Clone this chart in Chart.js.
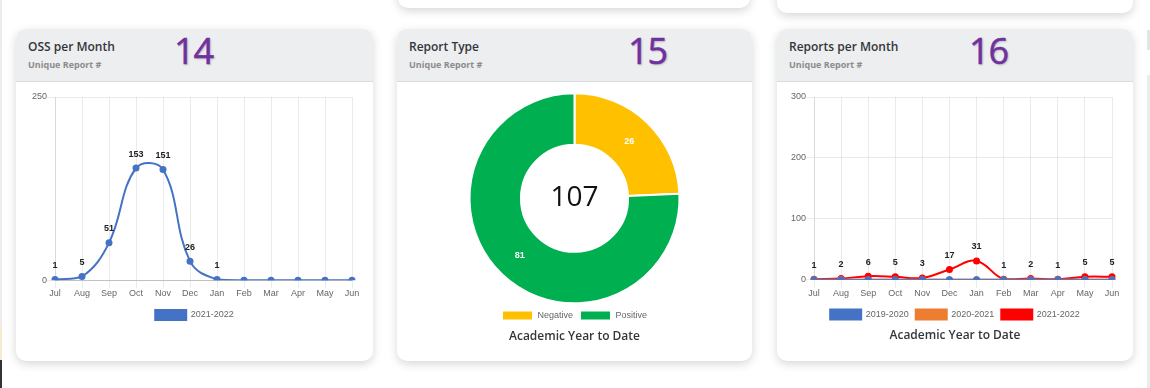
<!DOCTYPE html>
<html>
<head>
<meta charset="utf-8">
<script src="https://cdn.jsdelivr.net/npm/chart.js@4/dist/chart.umd.min.js"></script>
<style>
  html, body { margin: 0; padding: 0; }
  body { width: 1150px; height: 388px; background: #fff; position: relative; overflow: hidden; font-family: 'Open Sans', sans-serif; }
  .card { position: absolute; background: #fff; border-radius: 10px; box-shadow: 0 3px 10px rgba(0,0,0,0.16); overflow: hidden; }
  .card-header { position: absolute; left: 0; top: 0; right: 0; height: 52px; background: #eceef0; border-bottom: 1px solid #d9dbde; }
  .card-title { position: absolute; left: 12px; top: 9px; font-size: 12px; font-weight: 600; color: #33363b; }
  .card-sub { position: absolute; left: 12px; top: 29px; font-size: 9px; font-weight: 700; color: #8c8c8c; }
  .badge { position: absolute; top: -3px; font-size: 36px; color: #7030a0; letter-spacing: -1px; text-shadow: 1px 1px 2px rgba(0,0,0,0.25); -webkit-text-stroke: 0.5px #7030a0; }
  .card-body { position: absolute; left: 0; right: 0; top: 53px; bottom: 0; }
  .strip { position: absolute; }
</style>
</head>
<body>
<div class="card" style="left:398px; top:-40px; width:352px; height:48px;"></div>
<div class="card" style="left:777px; top:-40px; width:356px; height:53px;"></div>
<div class="strip" style="left:0; top:0; width:2px; height:325px; background:#ececec;"></div>
<div class="strip" style="left:0; top:325px; width:2px; height:35px; background:#f6ead2;"></div>
<div class="strip" style="left:0; top:360px; width:2px; height:28px; background:#333;"></div>
<div class="strip" style="left:1147px; top:30px; width:3px; height:20px; background:#e4e4e4;"></div>
<div class="strip" style="left:1147px; top:75px; width:3px; height:313px; background:#ececec;"></div>

<div class="card" style="left:16px; top:29px; width:357px; height:332px;">
  <div class="card-header">
    <div class="card-title">OSS per Month</div>
    <div class="card-sub">Unique Report #</div>
    <div class="badge" style="left:158px;">14</div>
  </div>
  <div class="card-body"><canvas id="ossChart"></canvas></div>
</div>

<div class="card" style="left:397px; top:29px; width:355px; height:332px;">
  <div class="card-header">
    <div class="card-title">Report Type</div>
    <div class="card-sub">Unique Report #</div>
    <div class="badge" style="left:231px;">15</div>
  </div>
  <div class="card-body"><canvas id="typeChart"></canvas></div>
</div>

<div class="card" style="left:777px; top:29px; width:356px; height:332px;">
  <div class="card-header">
    <div class="card-title">Reports per Month</div>
    <div class="card-sub">Unique Report #</div>
    <div class="badge" style="left:192px;">16</div>
  </div>
  <div class="card-body"><canvas id="monthChart"></canvas></div>
</div>

<script>
const months = ['Jul', 'Aug', 'Sep', 'Oct', 'Nov', 'Dec', 'Jan', 'Feb', 'Mar', 'Apr', 'May', 'Jun'];
const ossValues2122 = [1, 5, 51, 153, 151, 26, 1, 0, 0, 0, 0, 0];
const ossTicks = [0, 250];

const typeLabels = ['Negative', 'Positive'];
const typeValues = [26, 81];

const reports1920 = [0, 0, 0, 0, 0, 0, 0, 0, 0, 0, 0, 0];
const reports2021 = [0, 0, 0, 0, 0, 0, 0, 0, 0, 0, 0, 0];
const reports2122 = [1, 2, 6, 5, 3, 17, 31, 1, 2, 1, 5, 5];
const reportTicks = [0, 100, 200, 300];

const BLUE = '#4472c4', ORANGE = '#ed7d31', RED = '#ff0000';
const YELLOW = '#ffc000', GREEN = '#00b050';
const tickFont = { family: "Arial, 'Liberation Sans', sans-serif", size: 9 };
const legendLabels = { boxWidth: 31, boxHeight: 10, color: '#666', font: tickFont, padding: 7 };
const bottomTitle = {
    display: true,
    position: 'bottom',
    text: 'Academic Year to Date',
    color: '#33363b',
    font: { family: "'Open Sans', sans-serif", size: 12, weight: '600' },
    padding: { top: -1, bottom: 10 }
};

// draws value labels above points (or inside arcs) for datasets flagged with showValues
const valueLabels = {
    id: 'valueLabels',
    afterDatasetsDraw(chart) {
        const ctx = chart.ctx;
        chart.data.datasets.forEach((ds, i) => {
            if (!ds.showValues) return;
            const meta = chart.getDatasetMeta(i);
            meta.data.forEach((el, j) => {
                const v = ds.data[j];
                if (!v) return;
                ctx.save();
                ctx.font = "bold 9px Arial, 'Liberation Sans', sans-serif";
                ctx.textAlign = 'center';
                ctx.textBaseline = 'middle';
                if (meta.type === 'doughnut') {
                    const p = el.tooltipPosition();
                    ctx.fillStyle = '#fff';
                    ctx.fillText(v, p.x, p.y);
                } else {
                    ctx.fillStyle = '#222';
                    ctx.fillText(v, el.x, el.y - 14);
                }
                ctx.restore();
            });
        });
    }
};

const centerTotal = {
    id: 'centerTotal',
    afterDraw(chart) {
        const total = chart.data.datasets[0].data.reduce((a, b) => a + b, 0);
        const arc = chart.getDatasetMeta(0).data[0];
        const ctx = chart.ctx;
        ctx.save();
        ctx.font = "28px 'Open Sans', sans-serif";
        ctx.fillStyle = '#111';
        ctx.textAlign = 'center';
        ctx.textBaseline = 'middle';
        ctx.fillText(total, arc.x, arc.y);
        ctx.restore();
    }
};

function lineOptions(ticks, axisWidth, withTitle) {
    return {
        responsive: false,
        animation: false,
        layout: { padding: { top: 15, bottom: withTitle ? 8 : 31 } },
        scales: {
            x: {
                afterFit: scale => { scale.height += 4; },
                grid: { color: 'rgba(0,0,0,0.08)' },
                border: { color: 'rgba(0,0,0,0.18)' },
                ticks: { color: '#666', font: tickFont, maxRotation: 0, autoSkip: false, padding: 0 }
            },
            y: {
                min: ticks[0],
                max: ticks[ticks.length - 1],
                afterFit: scale => { scale.width = axisWidth; },
                afterBuildTicks: scale => { scale.ticks = ticks.map(value => ({ value })); },
                grid: { color: 'rgba(0,0,0,0.08)' },
                border: { color: 'rgba(0,0,0,0.08)' },
                ticks: { color: '#666', font: tickFont, padding: 0 }
            },
            // empty right-hand axis that only reserves the gutter, so legend and title stay centred on the card
            gutter: {
                type: 'linear',
                position: 'right',
                afterFit: scale => { scale.width = 21; },
                grid: { display: false },
                border: { display: false },
                ticks: { display: false }
            }
        },
        plugins: {
            legend: { position: 'bottom', labels: legendLabels },
            title: { ...bottomTitle, display: withTitle },
            tooltip: { enabled: false }
        }
    };
}

function lineSet(label, data, color, showValues) {
    return {
        label, data, showValues,
        borderColor: color, backgroundColor: color,
        borderWidth: 2, pointRadius: 3.5, pointBorderWidth: 0,
        tension: 0.4, fill: false, yAxisID: 'y'
    };
}

function makeCanvas(id, w, h) {
    const c = document.getElementById(id);
    c.width = w; c.height = h;
    return c;
}

new Chart(makeCanvas('ossChart', 357, 279), {
    type: 'line',
    data: { labels: months, datasets: [lineSet('2021-2022', ossValues2122, BLUE, true)] },
    options: lineOptions(ossTicks, 39, false),
    plugins: [valueLabels]
});

new Chart(makeCanvas('typeChart', 355, 279), {
    type: 'doughnut',
    data: {
        labels: typeLabels,
        datasets: [{ data: typeValues, showValues: true, backgroundColor: [YELLOW, GREEN], borderColor: '#fff', borderWidth: 2 }]
    },
    options: {
        responsive: false,
        animation: false,
        radius: 105,
        cutout: '51%',
        layout: { padding: { top: 11, bottom: 7 } },
        plugins: {
            legend: { position: 'bottom', labels: legendLabels },
            title: bottomTitle,
            tooltip: { enabled: false }
        }
    },
    plugins: [valueLabels, centerTotal]
});

new Chart(makeCanvas('monthChart', 356, 279), {
    type: 'line',
    data: {
        labels: months,
        datasets: [
            lineSet('2019-2020', reports1920, BLUE, false),
            lineSet('2020-2021', reports2021, ORANGE, false),
            lineSet('2021-2022', reports2122, RED, true)
        ]
    },
    options: lineOptions(reportTicks, 37, true),
    plugins: [valueLabels]
});
</script>
</body>
</html>
